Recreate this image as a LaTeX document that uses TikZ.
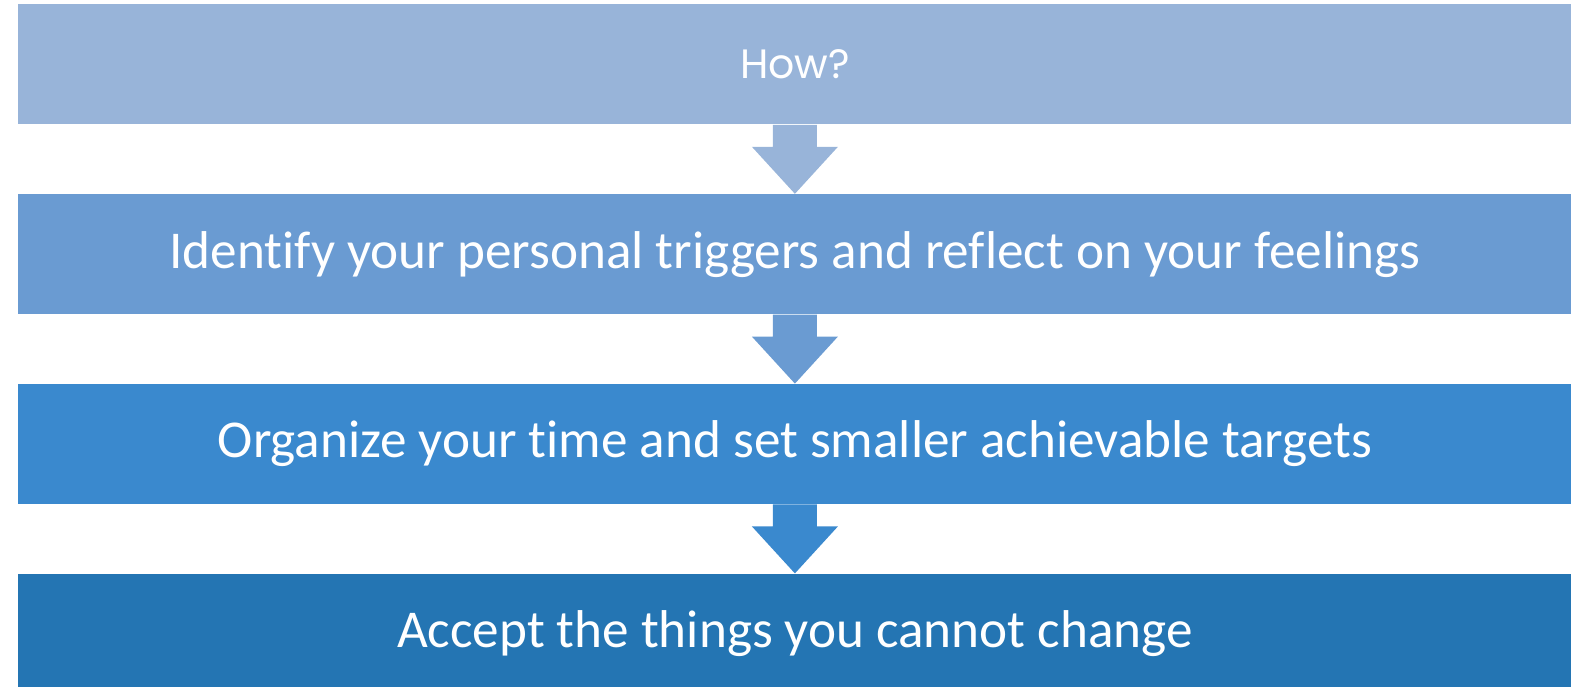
\documentclass[tikz,border=0pt]{standalone}
\usepackage{fontspec}
\setmainfont{Carlito}[Ligatures={NoCommon}]
\newfontfamily\howfont{Poppins}
\usetikzlibrary{positioning,calc}
\definecolor{stepA}{HTML}{98B4D9}
\definecolor{stepB}{HTML}{6A9BD2}
\definecolor{stepC}{HTML}{3A89CE}
\definecolor{stepD}{HTML}{2475B3}
\newcommand{\blockarrow}[3]{%
  \fill[#1] ($(#2.south)+(-11pt,0)$) -- ($(#2.south)+(11pt,0)$) --
    ($(#2.south)+(11pt,-11pt)$) -- ($(#2.south)+(21.5pt,-11pt)$) --
    (#3.north) -- ($(#2.south)+(-21.5pt,-11pt)$) --
    ($(#2.south)+(-11pt,-11pt)$) -- cycle;}

\begin{document}
\begin{tikzpicture}[node distance=34.5pt]
\tikzset{stepbox/.style={fill=#1, text=white, minimum width=776.5pt, minimum height=60pt,
  inner sep=0pt, font=\fontsize{26.6}{32}\selectfont}}
\useasboundingbox (0,0) rectangle (789pt,-343pt);
\node[stepbox=stepA, anchor=north west, font=\howfont\fontsize{20.5}{24}\selectfont] (how) at (9pt,-2pt) {How?};
\node[stepbox=stepB, below=of how] (identify) {Identify your personal triggers and reflect on your feelings};
\node[stepbox=stepC, below=of identify] (organize) {Organize your time and set smaller achievable targets};
\node[stepbox=stepD, below=of organize] (accept) {Accept the things you cannot change};

\blockarrow{stepA}{how}{identify}
\blockarrow{stepB}{identify}{organize}
\blockarrow{stepC}{organize}{accept}
\end{tikzpicture}
\end{document}
